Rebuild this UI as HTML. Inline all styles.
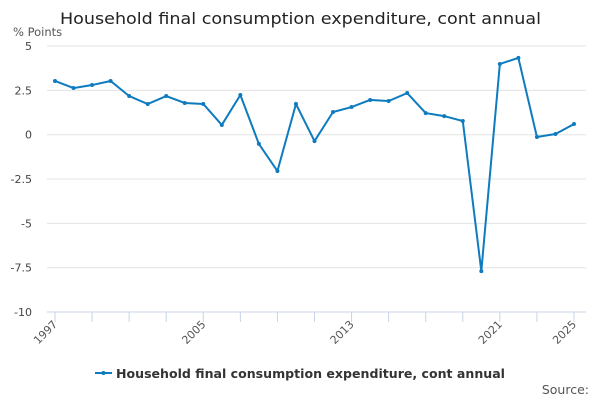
<!DOCTYPE html>
<html><head><meta charset="utf-8"><style>
body{margin:0;background:#fff;font-family:"DejaVu Sans",sans-serif}
svg text{font-family:"DejaVu Sans",sans-serif}
</style></head><body>
<svg width="600" height="400">
<text x="60" y="24" font-size="16" fill="#222" textLength="481" lengthAdjust="spacingAndGlyphs">Household final consumption expenditure, cont annual</text>
<text x="13" y="36" font-size="11.5" fill="#555">% Points</text>
<g id="grid"></g><g id="xax"></g>
<polyline id="line" fill="none" stroke="#0e7bbf" stroke-width="2"/>
<g id="pts"></g>
<g>
<line x1="95" y1="373" x2="112" y2="373" stroke="#0e7bbf" stroke-width="2"/>
<circle cx="103.5" cy="373" r="2" fill="#0e7bbf"/>
<text x="116" y="378" font-size="12.5" font-weight="bold" fill="#333" textLength="389" lengthAdjust="spacingAndGlyphs">Household final consumption expenditure, cont annual</text>
</g>
<text x="589" y="394" font-size="12.5" fill="#555" text-anchor="end">Source:</text>
</svg>
<script>
const years=[1997,1998,1999,2000,2001,2002,2003,2004,2005,2006,2007,2008,2009,2010,2011,2012,2013,2014,2015,2016,2017,2018,2019,2020,2021,2022,2023,2024,2025];
const values=[3.03,2.63,2.8,3.03,2.18,1.73,2.18,1.79,1.73,0.55,2.24,-0.52,-2.05,1.73,-0.36,1.28,1.56,1.96,1.9,2.35,1.22,1.05,0.77,-7.69,3.99,4.33,-0.13,0.04,0.6];
const yTicks=[5,2.5,0,-2.5,-5,-7.5,-10];
const yTickLabels=["5","2.5","0","-2.5","-5","-7.5","-10"];
const xLabels=[1997,2005,2013,2021,2025];
const NS="http://www.w3.org/2000/svg";
const x=v=>55+(v-1997)*(574-55)/28;
const y=v=>134.7-v*(266/15);
function mk(t,a,p){const e=document.createElementNS(NS,t);for(const k in a)e.setAttribute(k,a[k]);p.appendChild(e);return e;}
const g=document.getElementById('grid');
yTicks.forEach((t,i)=>{
 const l=mk('line',{x1:47,x2:586,y1:y(t),y2:y(t),stroke:t===-10?'#c8d3e6':'#e3e3e3'},g);
 
 
 const tx=mk('text',{x:32,y:y(t)+4,'font-size':11,fill:'#444','text-anchor':'end'},g);
 tx.textContent=yTickLabels[i];
 
 
});
const xa=document.getElementById('xax');
for(let yr=1997;yr<=2025;yr+=2){
 const l=mk('line',{x1:x(yr),x2:x(yr),y1:312,y2:322,stroke:'#c8d3e6'},xa);
 
 
}
xLabels.forEach(yr=>{
 const t=mk('text',{x:x(yr)+3,y:325,'font-size':11,fill:'#555','text-anchor':'end',transform:`rotate(-45 ${x(yr)+3} 325)`},xa);
 t.textContent=yr;
 
 
});
document.getElementById('line').setAttribute('points',years.map((yr,i)=>x(yr)+','+y(values[i])).join(' '));
const p=document.getElementById('pts');
years.forEach((yr,i)=>{
 const c=mk('circle',{cx:x(yr),cy:y(values[i]),r:2,fill:'#0e7bbf'},p);
 
 
});
</script>
</body></html>
